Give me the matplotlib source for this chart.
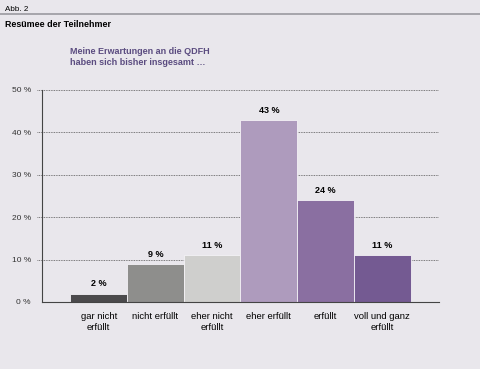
import matplotlib
matplotlib.use("Agg")
import matplotlib.pyplot as plt

plt.rcParams.update({
    "font.family": ["Liberation Sans", "DejaVu Sans"],
    "font.size": 7,
})

categories = ["gar nicht\nerfüllt", "nicht erfüllt", "eher nicht\nerfüllt",
              "eher erfüllt", "erfüllt", "voll und ganz\nerfüllt"]
values = [2, 9, 11, 43, 24, 11]
colors = ["#4b4a4c", "#8e8e8c", "#cfcfcd", "#ae9bbd", "#8a6fa1", "#745a92"]
yticks = [0, 10, 20, 30, 40, 50]

BG = "#e9e7ec"

fig = plt.figure(figsize=(4.8, 3.69), dpi=100, facecolor=BG)
ax = fig.add_axes([0.0875, 0.1816, 0.827, 0.5745])
ax.set_facecolor(BG)

# header
fig.text(0.011, 0.985, "Abb. 2", fontsize=5.8, va="top", ha="left")
fig.add_artist(plt.Line2D([0, 1], [0.963, 0.963], color="#9a9aa0", lw=1.2,
                          transform=fig.transFigure))
fig.text(0.011, 0.946, "Resümee der Teilnehmer", fontsize=6.4, weight="bold",
         va="top", ha="left")
fig.text(0.146, 0.873, "Meine Erwartungen an die QDFH\nhaben sich bisher insgesamt \u2026",
         fontsize=6.5, weight="bold", color="#5b4c80", va="top", ha="left",
         linespacing=1.3)

# dotted grid lines
for t in yticks[1:]:
    ax.axhline(t, xmin=-0.013, xmax=0.998, color="#555555", ls=(0, (1, 1)),
               lw=0.6, zorder=0, clip_on=False)

x = range(len(values))
ax.bar(x, values, width=1.0, color=colors, edgecolor="#f4f2f6", linewidth=0.6,
       zorder=2)
for i, v in enumerate(values):
    ax.text(i, v + 1.2, f"{v} %", ha="center", va="bottom", fontsize=6.5,
            weight="bold")

ax.set_xlim(-1.0, 6.0)
ax.set_ylim(0, 50)
ax.set_yticks(yticks)
ax.set_yticklabels([f"{t} %" for t in yticks], fontsize=6, color="#333333")
ax.set_xticks(list(x))
ax.set_xticklabels(categories, fontsize=6.8, linespacing=1.3)
ax.tick_params(axis="x", length=0, pad=7)
ax.tick_params(axis="y", length=0, pad=8)
for s in ["top", "right"]:
    ax.spines[s].set_visible(False)
for s in ["left", "bottom"]:
    ax.spines[s].set_color("#444444")
    ax.spines[s].set_linewidth(0.8)
ax.spines["bottom"].set_zorder(3)

fig.savefig("out.png", dpi=100, facecolor=BG)
